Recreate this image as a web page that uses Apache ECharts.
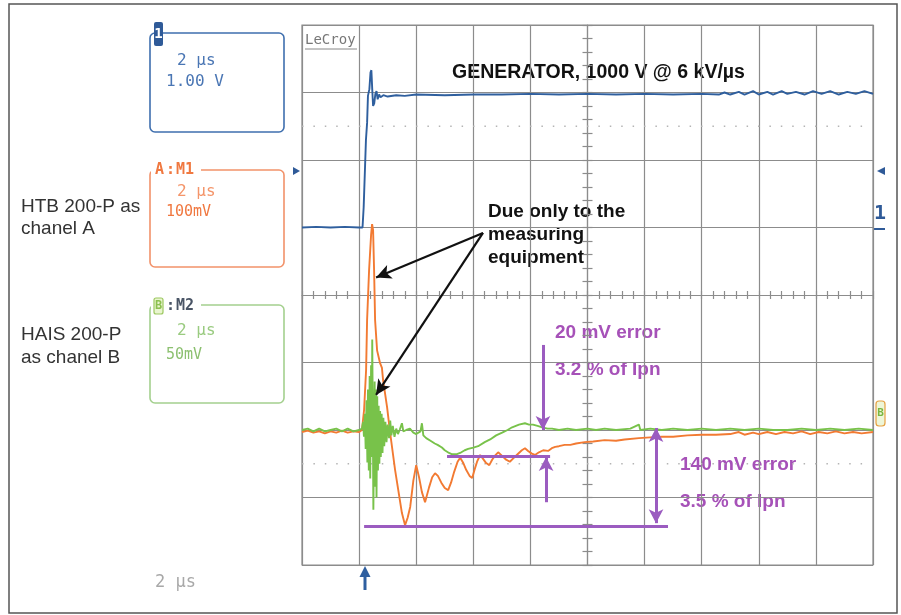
<!DOCTYPE html>
<html><head><meta charset="utf-8">
<script src="https://cdn.jsdelivr.net/npm/echarts@6/dist/echarts.min.js"></script>
<style>html,body{margin:0;padding:0;background:#fff}#c{width:901px;height:615px}</style>
</head><body><div id="c"></div>
<script>
// time in µs (2 µs/div), channel 1 in V (1 V/div), A in mV (100 mV/div), B in mV (50 mV/div)
const blueTrace = [[-2,0],[-1.5,0.01],[-1,0],[-0.5,0.01],[0,0],[0.12,0],[0.16,0.3],[0.2,0.8],[0.24,1.3],[0.28,1.55],[0.31,1.95],[0.36,2.05],[0.4,2.3],[0.43,2.33],[0.46,2.05],[0.49,1.8],[0.53,1.84],[0.57,1.98],[0.61,2.02],[0.65,1.9],[0.7,1.97],[0.75,1.93],[0.85,1.96],[1.0,1.94],[1.3,1.96],[1.6,1.95],[2,1.97],[3,1.96],[4,1.97],[5,1.97],[6,1.98],[7,1.97],[8,1.98],[9,1.97],[10,1.98],[11,1.97],[12,1.98],[12.6,1.97],[12.8,2.0],[13.0,1.97],[13.3,2.01],[13.5,1.97],[13.8,2.02],[14.0,1.97],[14.3,2.01],[14.5,1.97],[14.8,2.02],[15.0,1.98],[15.3,2.01],[15.6,1.97],[15.9,2.02],[16.2,1.98],[16.5,2.02],[16.8,1.97],[17.1,2.01],[17.4,1.98],[17.7,2.02],[18,1.98]];
const orangeTrace = [[-2,-3],[-1.8,-1],[-1.6,-4],[-1.4,-2],[-1.2,-5],[-1.0,-2],[-0.8,-4],[-0.6,-1],[-0.4,-4],[-0.2,-2],[0,-3],[0.1,0],[0.175,30],[0.245,89],[0.28,163],[0.35,237],[0.42,289],[0.455,305],[0.49,296],[0.525,237],[0.56,163],[0.63,118],[0.735,99],[0.8,92],[0.84,74],[0.98,34],[1.086,-4],[1.26,-59],[1.5,-123],[1.61,-141],[1.7,-130],[1.79,-114],[1.9,-75],[2.0,-52],[2.1,-70],[2.2,-92],[2.31,-107],[2.45,-85],[2.56,-70],[2.66,-64],[2.76,-68],[2.88,-78],[3.0,-86],[3.12,-89],[3.22,-78],[3.33,-62],[3.45,-47],[3.54,-41],[3.64,-48],[3.75,-59],[3.87,-68],[3.96,-71],[4.05,-58],[4.14,-46],[4.24,-37],[4.33,-42],[4.45,-49],[4.56,-52],[4.66,-44],[4.76,-38],[4.87,-33],[5.0,-38],[5.15,-44],[5.28,-47],[5.4,-42],[5.55,-36],[5.7,-30],[5.81,-27],[5.92,-31],[6.05,-35],[6.16,-37],[6.3,-33],[6.45,-30],[6.62,-31],[6.75,-27],[6.87,-25],[7.0,-24],[7.2,-22],[7.4,-22],[7.6,-20],[7.9,-18],[8.2,-17],[8.6,-15],[9.0,-16],[9.3,-14],[9.8,-12],[10.2,-11],[10.6,-10],[11.0,-10],[11.5,-8],[12.0,-7],[12.5,-7],[13.0,-6],[13.3,-3],[13.5,-7],[13.8,-4],[14.0,-6],[14.3,-3],[14.6,-6],[14.9,-3],[15.2,-5],[15.5,-2],[15.8,-6],[16.1,-3],[16.4,-5],[16.7,-2],[17.0,-5],[17.3,-3],[17.6,-5],[18,-3]];
const greenTrace = [[-2,0],[-1.8,1],[-1.6,-1],[-1.4,1],[-1.2,-1],[-1.0,0],[-0.8,1],[-0.6,-1],[-0.4,1],[-0.2,-1],[0,0],[0.1,1],[0.14,6],[0.17,-5],[0.2,12],[0.23,-14],[0.26,22],[0.29,-24],[0.31,30],[0.34,-30],[0.37,40],[0.39,-36],[0.42,48],[0.445,-20],[0.46,67],[0.48,10],[0.5,-59],[0.52,-8],[0.545,36],[0.565,-42],[0.59,30],[0.61,-50],[0.635,25],[0.66,-30],[0.685,18],[0.71,-25],[0.735,14],[0.76,-20],[0.79,12],[0.82,-17],[0.85,9],[0.88,-12],[0.92,6],[0.96,-9],[1.0,4],[1.05,-6],[1.09,7],[1.13,-4],[1.18,3],[1.24,-5],[1.3,1],[1.36,-3],[1.42,0],[1.5,5],[1.55,-1],[1.65,0],[1.78,1],[1.9,-2],[2.0,-3],[2.15,-1],[2.2,5],[2.25,-4],[2.35,-6],[2.5,-8],[2.65,-10],[2.75,-11],[2.9,-13],[3.0,-15],[3.15,-17],[3.26,-18],[3.4,-18],[3.54,-17],[3.7,-15],[3.82,-14],[4.0,-13],[4.17,-12],[4.4,-9],[4.59,-7],[4.8,-4],[5.01,-2],[5.2,0],[5.36,2],[5.6,4],[5.81,5],[5.95,4],[6.09,4],[6.25,3],[6.41,2],[6.6,1],[6.76,1],[7.0,0],[7.3,1],[7.6,0],[8.0,1],[8.3,0],[8.6,1],[9.0,0],[9.5,1],[9.8,4],[9.85,0],[10.2,1],[10.6,0],[11,1],[11.5,0],[12,1],[12.5,0],[13,1],[13.5,0],[14,1],[14.5,0],[15,0],[15.5,1],[16,0],[16.5,1],[17,0],[17.5,1],[18,0]];
const screenMarkLevels = [2.5, -2.5]; // divisions
// purple measurement marks, in channel A units (µs, mV)
const purpleBars = [[[3.08,-38.5],[6.69,-38.5]], [[0.175,-142],[10.82,-142]]];
const purpleArrows = [{from:[6.44,126], to:[6.44,0], both:false}, {from:[6.55,-107], to:[6.55,-40], both:false}, {from:[10.4,-138], to:[10.4,3], both:true}];
// black pointers, in channel B units (µs, mV)
const blackArrows = [{from:[4.34,146], to:[0.595,113]}, {from:[4.34,146], to:[0.595,26]}];

const GRID = '#8c8c8c', PURPLE = '#9b5cc0', PTXT = '#a651b8';
const SANS = "'Liberation Sans', Arial, sans-serif";
const MONO = "'DejaVu Sans Mono', monospace";
function T(x, y, text, font, fill, align) {
  return {type:'text', x:x, y:y, style:{text:text, font:font, fill:fill, textAlign:align||'left', textVerticalAlign:'middle'}};
}
function R(x, y, w, h, stroke, fill, r, lw) {
  return {type:'rect', shape:{x:x, y:y, width:w, height:h, r:r||0}, style:{fill:fill||'none', stroke:stroke||'none', lineWidth:lw||1.5}};
}
function L(x1, y1, x2, y2, c, w) {
  return {type:'line', shape:{x1:x1, y1:y1, x2:x2, y2:y2}, style:{stroke:c, lineWidth:w||1}};
}

const chart = echarts.init(document.getElementById('c'), null, {renderer:'canvas'});
const purpleMark = purpleBars.map(s => [{coord:s[0], symbol:'none'}, {coord:s[1], symbol:'none'}])
  .concat(purpleArrows.map(a => [{coord:a.from, symbol:a.both ? 'arrow' : 'none'}, {coord:a.to, symbol:'arrow'}]));
const blackMark = blackArrows.map(a => [{coord:a.from, symbol:'none'}, {coord:a.to, symbol:'arrow'}]);

chart.setOption({
  animation:false,
  grid:{left:302, top:25, width:571, height:540, show:true, borderColor:GRID, borderWidth:1.2, backgroundColor:'#fff'},
  xAxis:[
    {type:'value', min:-2, max:18, interval:2, axisLine:{show:false}, axisTick:{show:false}, axisLabel:{show:false}, splitLine:{show:true, lineStyle:{color:GRID, width:1.2}}},
    {type:'value', min:-2, max:18, interval:0.4, position:'bottom', offset:-270, axisLine:{show:true, lineStyle:{color:GRID, width:1.2}}, axisTick:{show:true, inside:true, length:4, lineStyle:{color:GRID, width:1.2}}, axisLabel:{show:false}, splitLine:{show:false}},
    {type:'value', min:-2, max:18, interval:0.4, position:'bottom', offset:-270, axisLine:{show:false}, axisTick:{show:true, inside:false, length:4, lineStyle:{color:GRID, width:1.2}}, axisLabel:{show:false}, splitLine:{show:false}}
  ],
  yAxis:[
    {type:'value', min:-5, max:3, interval:1, axisLine:{show:false}, axisTick:{show:false}, axisLabel:{show:false}, splitLine:{show:true, lineStyle:{color:GRID, width:1.2}}},
    {type:'value', min:-200, max:600, show:false},
    {type:'value', min:-100, max:300, show:false},
    {type:'value', min:-4, max:4, interval:0.2, position:'left', offset:-285.5, axisLine:{show:true, lineStyle:{color:GRID, width:1.2}}, axisTick:{show:true, inside:true, length:5, lineStyle:{color:GRID, width:1.2}}, axisLabel:{show:false}, splitLine:{show:false}},
    {type:'value', min:-4, max:4, interval:0.2, position:'left', offset:-285.5, axisLine:{show:false}, axisTick:{show:true, inside:false, length:5, lineStyle:{color:GRID, width:1.2}}, axisLabel:{show:false}, splitLine:{show:false}}
  ],
  series:[
    ...screenMarkLevels.map(v => ({type:'line', xAxisIndex:0, yAxisIndex:3, data:[[-2,v],[18,v]], symbol:'none', silent:true, lineStyle:{color:'#b4b4b4', width:1.5, type:[1.5,9.9]}, z:1})),
    {name:'Channel 1', type:'line', xAxisIndex:0, yAxisIndex:0, data:blueTrace, symbol:'none', lineStyle:{color:'#2f5f9e', width:1.9}, z:3},
    {name:'A', type:'line', xAxisIndex:0, yAxisIndex:1, data:orangeTrace, symbol:'none', lineStyle:{color:'#f27a32', width:1.9}, z:3,
      markLine:{silent:true, animation:false, symbol:['none','arrow'], symbolSize:[11,14], label:{show:false}, lineStyle:{color:PURPLE, width:3, type:'solid'}, data:purpleMark}},
    {name:'B', type:'line', xAxisIndex:0, yAxisIndex:2, data:greenTrace, symbol:'none', lineStyle:{color:'#78c24a', width:1.9}, z:4,
      markLine:{silent:true, animation:false, symbol:['none','arrow'], symbolSize:[11,15], label:{show:false}, lineStyle:{color:'#111', width:2.2, type:'solid'}, data:blackMark}}
  ],
  graphic:[
    R(9, 4, 888, 609, '#555', 'none', 0, 1.5),
    // left panel boxes
    R(150, 33, 134, 99, '#3f6fae', 'none', 5, 1.6),
    R(154, 22, 9, 24, 'none', '#2f5a98', 2),
    T(158.5, 34, '1', 'bold 14px ' + MONO, '#ffffff', 'center'),
    T(177, 61, '2 µs', '16px ' + MONO, '#4a76b4'),
    T(166, 82, '1.00 V', '16px ' + MONO, '#4a76b4'),
    R(150, 170, 134, 97, '#f2926a', 'none', 5, 1.6),
    R(151, 162, 50, 15, 'none', '#ffffff'),
    T(155, 170, 'A', 'bold 15px ' + MONO, '#f07840'),
    T(166, 170, ':', 'bold 15px ' + MONO, '#f07840'),
    T(176, 170, 'M1', 'bold 15px ' + MONO, '#f07840'),
    T(177, 192, '2 µs', '16px ' + MONO, '#f4956a'),
    T(166, 212, '100mV', '15px ' + MONO, '#f07840'),
    R(150, 305, 134, 98, '#a4d08e', 'none', 5, 1.6),
    R(151, 297, 50, 16, 'none', '#ffffff'),
    R(154, 298, 9, 16, '#9cc860', '#e9f5cf', 2, 1.2),
    T(158.5, 306, 'B', 'bold 12px ' + MONO, '#8cc050', 'center'),
    T(166, 306, ':', 'bold 15px ' + MONO, '#4a5566'),
    T(176, 306, 'M2', 'bold 15px ' + MONO, '#4a5566'),
    T(177, 331, '2 µs', '16px ' + MONO, '#9acb80'),
    T(166, 355, '50mV', '15px ' + MONO, '#8cc070'),
    T(155, 583, '2 µs', '17px ' + MONO, '#a8a8a8'),
    // channel descriptions
    T(21, 207, 'HTB 200-P as', '19px ' + SANS, '#333'),
    T(21, 229, 'chanel A', '19px ' + SANS, '#333'),
    T(21, 335, 'HAIS 200-P', '19px ' + SANS, '#333'),
    T(21, 358, 'as chanel B', '19px ' + SANS, '#333'),
    // scope labels
    T(305, 40, 'LeCroy', '14px ' + MONO, '#777'),
    L(305, 49, 357, 49, '#888', 1),
    {type:'polygon', shape:{points:[[293,167],[300,171],[293,175]]}, style:{fill:'#2f5a98'}},
    {type:'polygon', shape:{points:[[885,167],[877,171],[885,175]]}, style:{fill:'#2f5a98'}},
    T(880, 214, '1', 'bold 20px ' + MONO, '#2f5a98', 'center'),
    L(874, 229, 885, 229, '#2f5a98', 2),
    R(876, 401, 9, 25, '#e6a040', '#eef6d8', 3, 1.2),
    T(880.5, 413, 'B', 'bold 11px ' + MONO, '#7ab640', 'center'),
    L(365, 590, 365, 574, '#2f5fa0', 3),
    {type:'polygon', shape:{points:[[365,566],[359.5,577],[370.5,577]]}, style:{fill:'#2f5fa0'}},
    // annotations
    T(452, 73, 'GENERATOR, 1000 V @ 6 kV/µs', 'bold 19.5px ' + SANS, '#111'),
    T(488, 212, 'Due only to the', 'bold 19px ' + SANS, '#111'),
    T(488, 235, 'measuring', 'bold 19px ' + SANS, '#111'),
    T(488, 258, 'equipment', 'bold 19px ' + SANS, '#111'),
    T(555, 333, '20 mV error', 'bold 19px ' + SANS, PTXT),
    T(555, 370, '3.2 % of Ipn', 'bold 19px ' + SANS, PTXT),
    T(680, 465, '140 mV error', 'bold 19px ' + SANS, PTXT),
    T(680, 502, '3.5 % of Ipn', 'bold 19px ' + SANS, PTXT)
  ]
});
</script></body></html>
